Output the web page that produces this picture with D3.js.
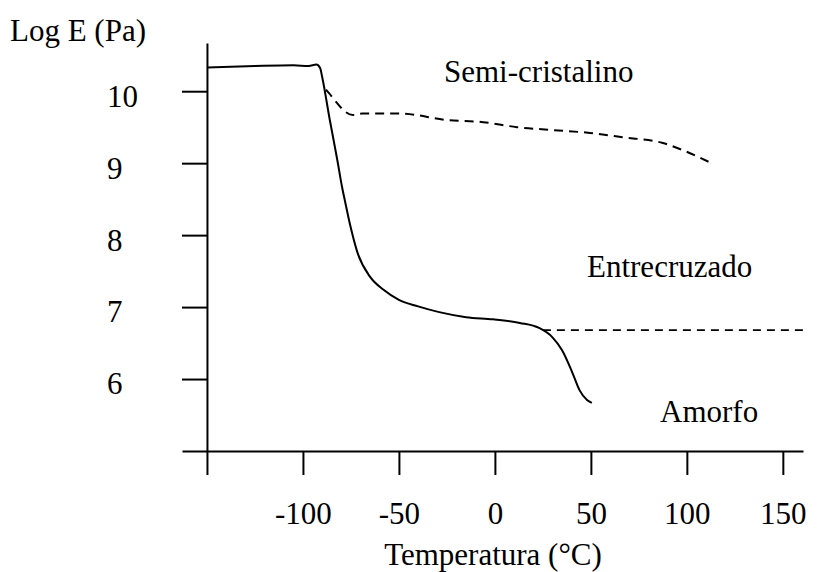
<!DOCTYPE html>
<html>
<head>
<meta charset="utf-8">
<script src="https://cdn.jsdelivr.net/npm/d3@7"></script>
<style>
  body { margin: 0; background: #fff; }
  svg text { font-family: "Times New Roman", "Liberation Serif", Times, serif; fill: #000; }
</style>
</head>
<body>
<div id="app"></div>
<script>

//
// Data
//

// amorphous polymer: glassy plateau, glass transition, rubbery plateau, flow
const amorfoTemp = [-150, -125, -105, -97, -93, -91, -90, -86, -82, -79.7, -78, -75.5, -71.5, -65, -58, -50, -40, -29, -15, -1, 13, 23, 30, 35, 40.5, 44, 48, 50.5]
const amorfoLogE = [10.33, 10.35, 10.36, 10.35, 10.37, 10.32, 10.2, 9.6, 9.03, 8.68, 8.46, 8.15, 7.75, 7.42, 7.24, 7.1, 7.01, 6.93, 6.86, 6.83, 6.78, 6.71, 6.58, 6.4, 6.08, 5.85, 5.71, 5.67]

// semi-crystalline branch (dashed)
const semiTemp = [-88, -87, -74, -69, -49.5, -25, -6, 11.5, 30, 49.5, 66.5, 87.5, 98, 112]
const semiLogE = [10.02, 9.99, 9.67, 9.69, 9.69, 9.6, 9.57, 9.5, 9.46, 9.42, 9.36, 9.28, 9.18, 9.01]

// cross-linked branch (dashed)
const entreTemp = [25, 160.5]
const entreLogE = [6.68, 6.68]

const xTicks = [-150, -100, -50, 0, 50, 100, 150]
const yTicks = [6, 7, 8, 9, 10]

const labels = { x: 'Temperatura (°C)', y: 'Log E (Pa)' }


//
// Constants
//

const width = 821
const height = 572
const fontSize = 31
const serif = '"Times New Roman", "Liberation Serif", Times, serif'


//
// Scales
//

const x = d3.scaleLinear().domain([-163, 160.5]).range([182, 803])
const y = d3.scaleLinear().domain([5, 10.67]).range([451, 43])

const toPoints = (xs, ys) => xs.map((t, i) => [t, ys[i]])

const line = d3.line()
  .x(d => x(d[0]))
  .y(d => y(d[1]))
  .curve(d3.curveMonotoneX)


//
// Chart
//

const svg = d3.select('#app').append('svg')
  .attr('width', width)
  .attr('height', height)

// x axis, ticks hang below the line
const xAxis = svg.append('g')
  .attr('transform', `translate(0, ${y(5)})`)
  .call(d3.axisBottom(x)
    .tickValues(xTicks)
    .tickSize(24)
    .tickSizeOuter(0)
    .tickPadding(27)
    .tickFormat(d => d === -150 ? '' : d))

// y axis sits on the -150 tick
const yAxis = svg.append('g')
  .attr('transform', `translate(${x(-150)}, 0)`)
  .call(d3.axisLeft(y)
    .tickValues(yTicks)
    .tickSize(25)
    .tickSizeOuter(0)
    .tickFormat(d3.format('d')))

svg.selectAll('g').attr('font-family', serif)

svg.selectAll('.domain, .tick line')
  .attr('stroke', '#000')
  .attr('stroke-width', 2)

svg.selectAll('.tick text')
  .attr('font-size', fontSize)
  .attr('fill', '#000')

yAxis.selectAll('.tick text')
  .attr('text-anchor', 'start')
  .attr('x', -100)
  .attr('dy', '0.48em')

// curves
svg.append('path')
  .datum(toPoints(amorfoTemp, amorfoLogE))
  .attr('fill', 'none')
  .attr('stroke', '#000')
  .attr('stroke-width', 2)
  .attr('d', line)

svg.append('path')
  .datum(toPoints(semiTemp, semiLogE))
  .attr('fill', 'none')
  .attr('stroke', '#000')
  .attr('stroke-width', 2)
  .attr('stroke-dasharray', '9,6')
  .attr('d', line)

svg.append('path')
  .datum(toPoints(entreTemp, entreLogE))
  .attr('fill', 'none')
  .attr('stroke', '#000')
  .attr('stroke-width', 1.6)
  .attr('stroke-dasharray', '8,6')
  .attr('d', line)

// annotations
const annotate = (text, px, py, anchor = 'start') => svg.append('text')
  .attr('x', px)
  .attr('y', py)
  .attr('text-anchor', anchor)
  .attr('font-family', serif)
  .attr('font-size', fontSize)
  .text(text)

annotate(labels.y, 10, 41)
annotate(labels.x, 493, 565, 'middle')
annotate('Semi-cristalino', 444, 82)
annotate('Entrecruzado', 587, 277)
annotate('Amorfo', 660, 422)

</script>
</body>
</html>
